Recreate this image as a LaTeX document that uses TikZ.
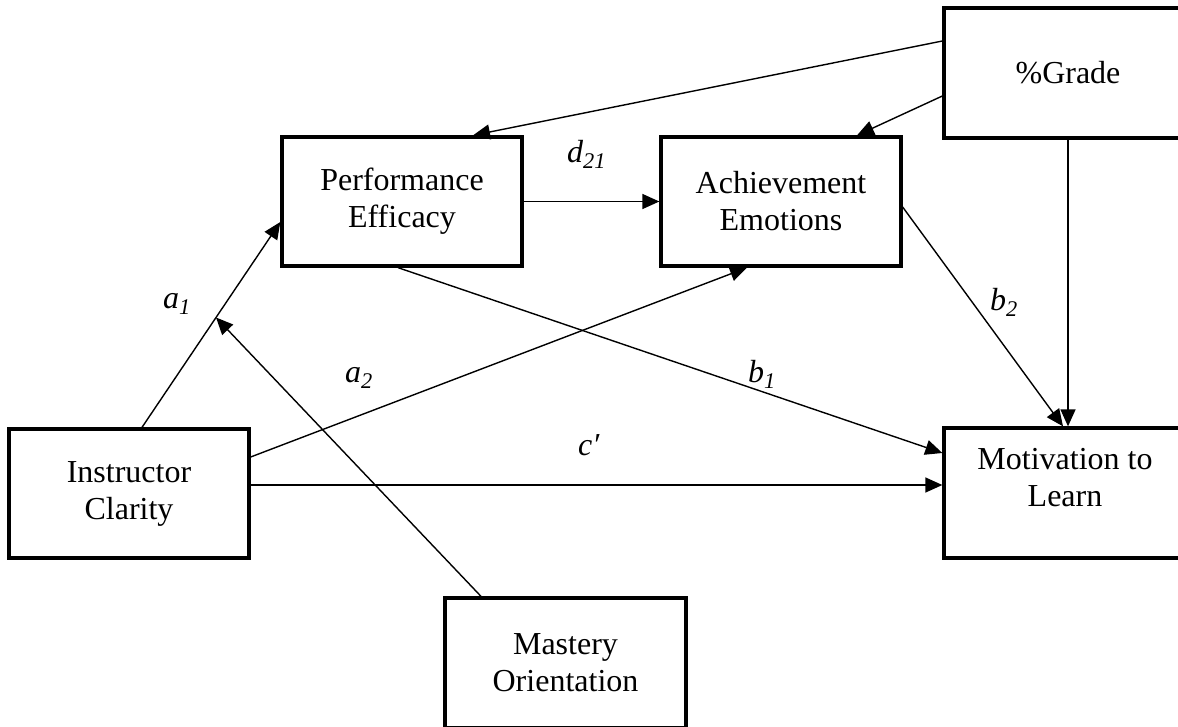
\documentclass[tikz,border=0pt]{standalone}
\usepackage{fontspec}
\setmainfont{Liberation Serif}
\usetikzlibrary{arrows.meta,calc}
\newcommand\mainfs{\fontsize{32}{37}\selectfont}
\begin{document}
\begin{tikzpicture}[x=1pt,y=-1pt,
  box/.style={draw,line width=3.3pt,minimum width=240pt,minimum height=129pt,
    align=center,inner sep=0pt,font=\mainfs},
  link/.style={line width=1.4pt,-{Triangle[length=17pt,width=15pt]}},
  lab/.style={font=\mainfs\itshape,inner sep=0pt,anchor=base west}]
\clip (0,0) rectangle (1178,726);

% variables
\node[box,minimum width=248pt,minimum height=130pt] (grade) at (1068,73) {\%Grade};
\node[box] (pe) at (402,201.5) {Performance\\Efficacy};
\node[box] (ae) at (781,201.5) {Achievement\\Emotions};
\node[box] (ic) at (129,493.5) {Instructor\\Clarity};
\node[box,minimum width=242pt,minimum height=130pt] (ml) at (1065,493) {};
\node[font=\mainfs,align=center,inner sep=0pt] (mltext) at (1065,478) {Motivation to\\Learn};
\node[box,minimum width=241pt,minimum height=130pt] (mo) at (565.5,663) {Mastery\\Orientation};

% ports
\coordinate (a1s) at ([xshift=13pt]ic.north);
\coordinate (a1e) at ([yshift=-20.5pt]pe.west);
\coordinate (mod) at ($(a1s)!0.535!(a1e)$);
\coordinate (cs) at ([yshift=8.5pt]ic.east);

% paths
\draw[link] (a1s) -- (a1e);
\draw[link] ([yshift=36.5pt]ic.east) -- ([xshift=-34pt]ae.south);
\draw[link] (cs) -- (cs -| ml.west);
\draw[link] (pe.east) -- (pe.east -| ae.west);
\draw[link] ([xshift=-4pt]pe.south) -- ([yshift=40pt]ml.west);
\draw[link] ([yshift=-5.5pt]ae.east) -- ([xshift=-2pt]ml.north);
\draw[link] (grade.south) -- (grade.south |- ml.north);
\draw[link] ([yshift=32pt]grade.west) -- ([xshift=71pt]pe.north);
\draw[link] ([yshift=-23pt]grade.west) -- ([xshift=76pt]ae.north);
\draw[link] ([xshift=-84.5pt]mo.north) -- (mod);

% path coefficients
\node[lab] (la1) at (163,308) {a\textsubscript{1}};
\node[lab] (ld21) at (567,162) {d\textsubscript{21}};
\node[lab] (la2) at (345,382) {a\textsubscript{2}};
\node[lab] (lb1) at (748,382) {b\textsubscript{1}};
\node[lab] (lb2) at (990,310) {b\textsubscript{2}};
\node[lab] (lc) at (578,455) {c′};
\end{tikzpicture}
\end{document}
